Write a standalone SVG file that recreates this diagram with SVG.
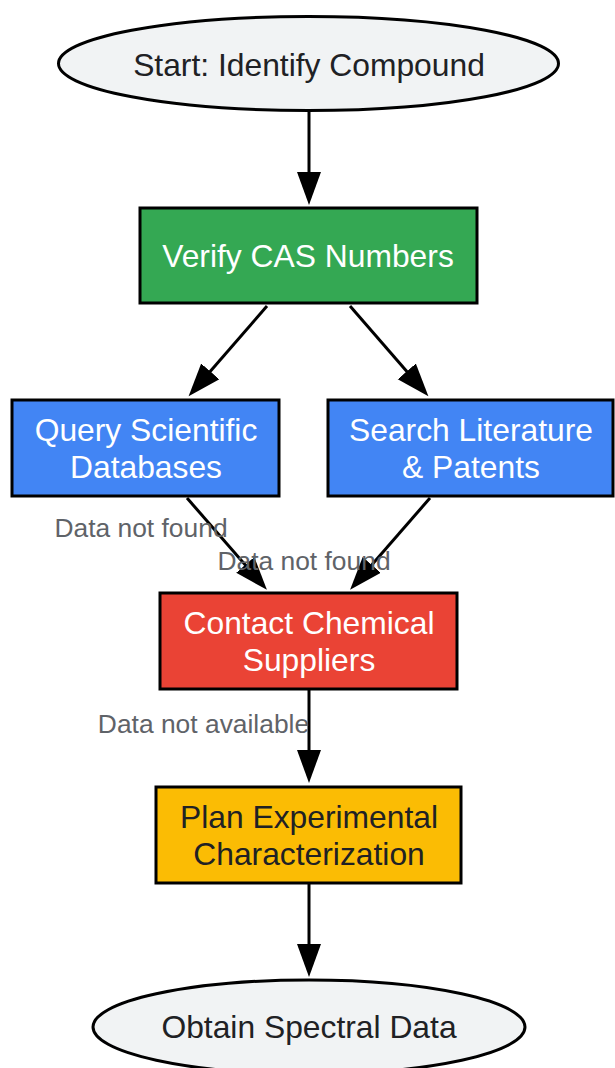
<svg xmlns="http://www.w3.org/2000/svg" width="615" height="1068" viewBox="0 0 615 1068">
<style>
.node{stroke:#000;stroke-width:3}
.t{font-family:"Liberation Sans",Arial,sans-serif;font-size:31.8px;text-anchor:middle}
.dark{fill:#202124}
.light{fill:#ffffff}
.edge{stroke:#000;stroke-width:3;fill:none}
.lbl{font-family:"Liberation Sans",Arial,sans-serif;font-size:26.4px;fill:#5f6368;text-anchor:middle}
</style>
<defs>
<marker id="arr" markerUnits="userSpaceOnUse" markerWidth="34" markerHeight="26" viewBox="0 0 34 26" refX="24" refY="12" orient="auto">
<path d="M0,0 L33,12 L0,24 z" fill="#000"/>
</marker>
</defs>
<rect width="615" height="1068" fill="#ffffff"/>
<g id="connectors">
<line class="edge" x1="309" y1="112" x2="309" y2="196" marker-end="url(#arr)"/>
<line class="edge" x1="267" y1="306" x2="194.5" y2="389.5" marker-end="url(#arr)"/>
<line class="edge" x1="350" y1="306" x2="422.5" y2="389.5" marker-end="url(#arr)"/>
<line class="edge" x1="187" y1="498" x2="261" y2="583" marker-end="url(#arr)"/>
<line class="edge" x1="430" y1="498" x2="356" y2="583" marker-end="url(#arr)"/>
<line class="edge" x1="309" y1="690" x2="309" y2="774" marker-end="url(#arr)"/>
<line class="edge" x1="309" y1="884" x2="309" y2="968" marker-end="url(#arr)"/>
<text class="lbl" x="141" y="537">Data not found</text>
<text class="lbl" x="304" y="570">Data not found</text>
<text class="lbl" x="203.5" y="733">Data not available</text>
</g>
<g id="start">
<ellipse class="node" cx="308.5" cy="63.5" rx="250" ry="47" fill="#f1f3f4"/>
<text class="t dark" x="309" y="76">Start: Identify Compound</text>
</g>
<g id="verify">
<rect class="node" x="140" y="208" width="337" height="95" fill="#34a853"/>
<text class="t light" x="308" y="267">Verify CAS Numbers</text>
</g>
<g id="query">
<rect class="node" x="12" y="400" width="267" height="96" fill="#4285f4"/>
<text class="t light" x="146" y="441">Query Scientific</text>
<text class="t light" x="146" y="478">Databases</text>
</g>
<g id="search">
<rect class="node" x="328" y="400" width="285" height="96" fill="#4285f4"/>
<text class="t light" x="471" y="441">Search Literature</text>
<text class="t light" x="471" y="478">&amp; Patents</text>
</g>
<g id="contact">
<rect class="node" x="160" y="593" width="297" height="96" fill="#ea4335"/>
<text class="t light" x="309" y="634">Contact Chemical</text>
<text class="t light" x="309" y="671">Suppliers</text>
</g>
<g id="plan">
<rect class="node" x="156" y="787" width="305" height="96" fill="#fbbc04"/>
<text class="t dark" x="309" y="828">Plan Experimental</text>
<text class="t dark" x="309" y="865">Characterization</text>
</g>
<g id="obtain">
<ellipse class="node" cx="309" cy="1027" rx="216" ry="47" fill="#f1f3f4"/>
<text class="t dark" x="309" y="1038">Obtain Spectral Data</text>
</g>
</svg>
